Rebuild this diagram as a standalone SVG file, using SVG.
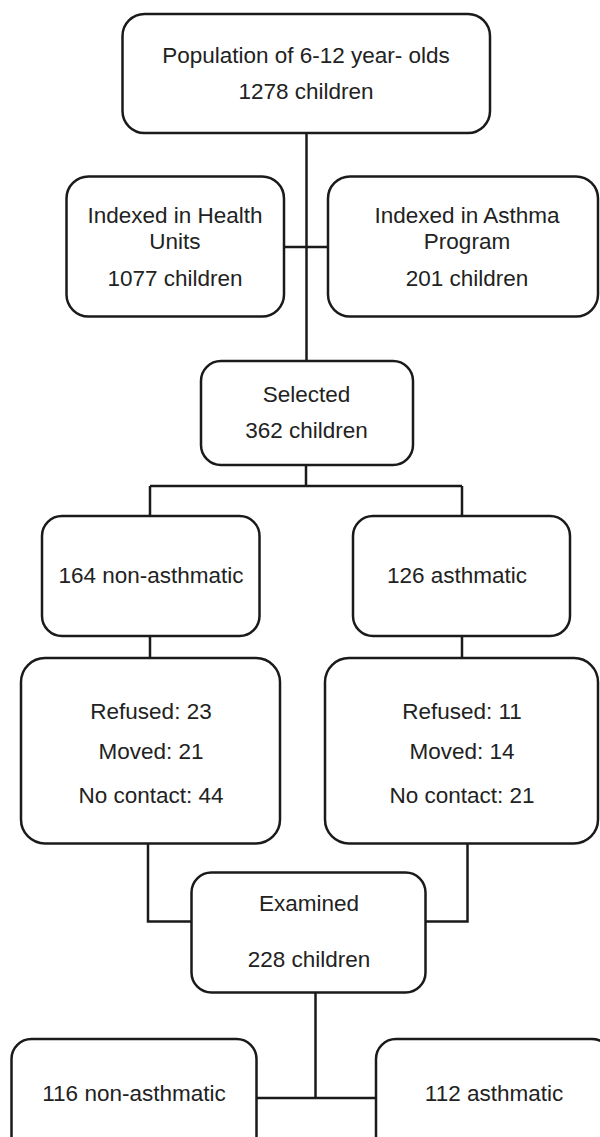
<svg xmlns="http://www.w3.org/2000/svg" width="600" height="1137" viewBox="0 0 600 1137">
<style>
.box{fill:#fff;stroke:#1a1a1a;stroke-width:2.5}
.t{font-family:"Liberation Sans",Arial,sans-serif;font-size:22.5px;fill:#222;text-anchor:middle}
.c{fill:none;stroke:#1a1a1a;stroke-width:2.5}
</style>
<rect width="600" height="1137" fill="#fff"/>
<g id="connectors">
<path class="c" d="M306.5 133 V361"/>
<path class="c" d="M284 247 H328"/>
<path class="c" d="M306 465 V486 M150 486 H462 M150 486 V516 M462 486 V516"/>
<path class="c" d="M150 636 V658 M462 636 V658"/>
<path class="c" d="M148 843 V921.5 H191.5"/>
<path class="c" d="M467.5 843 V921.5 H425.5"/>
<path class="c" d="M315.5 992.5 V1098 M256.5 1098 H376"/>
</g>
<g id="population">
<rect class="box" x="122.5" y="14" width="367.5" height="119" rx="22"/>
<text class="t" x="306" y="63">Population of 6-12 year- olds</text>
<text class="t" x="306" y="99">1278 children</text>
</g>
<g id="health-units">
<rect class="box" x="66.5" y="176.5" width="217.5" height="140" rx="22"/>
<text class="t" x="175" y="222.5">Indexed in Health</text>
<text class="t" x="175" y="249">Units</text>
<text class="t" x="175" y="286">1077 children</text>
</g>
<g id="asthma-program">
<rect class="box" x="328" y="176.5" width="270" height="140" rx="22"/>
<text class="t" x="467" y="222.5">Indexed in Asthma</text>
<text class="t" x="467" y="249">Program</text>
<text class="t" x="467" y="286">201 children</text>
</g>
<g id="selected">
<rect class="box" x="201" y="361" width="212" height="104" rx="20"/>
<text class="t" x="306.5" y="401.5">Selected</text>
<text class="t" x="306.5" y="438">362 children</text>
</g>
<g id="non-asthmatic-164">
<rect class="box" x="42" y="516" width="217.5" height="120" rx="20"/>
<text class="t" x="151" y="583">164 non-asthmatic</text>
</g>
<g id="asthmatic-126">
<rect class="box" x="353" y="516" width="217" height="120" rx="20"/>
<text class="t" x="457" y="583">126 asthmatic</text>
</g>
<g id="losses-left">
<rect class="box" x="21" y="658" width="259" height="185.5" rx="24"/>
<text class="t" x="151" y="718.5">Refused: 23</text>
<text class="t" x="151" y="759">Moved: 21</text>
<text class="t" x="151" y="802.5">No contact: 44</text>
</g>
<g id="losses-right">
<rect class="box" x="325" y="658" width="273" height="185.5" rx="24"/>
<text class="t" x="462" y="718.5">Refused: 11</text>
<text class="t" x="462" y="759">Moved: 14</text>
<text class="t" x="462" y="802.5">No contact: 21</text>
</g>
<g id="examined">
<rect class="box" x="191.5" y="872.5" width="234" height="120" rx="20"/>
<text class="t" x="309" y="910.5">Examined</text>
<text class="t" x="309" y="966.5">228 children</text>
</g>
<g id="non-asthmatic-116">
<rect class="box" x="11.5" y="1039" width="245" height="130" rx="20"/>
<text class="t" x="134" y="1101">116 non-asthmatic</text>
</g>
<g id="asthmatic-112">
<rect class="box" x="376" y="1039" width="236" height="130" rx="20"/>
<text class="t" x="494" y="1101">112 asthmatic</text>
</g>
</svg>
